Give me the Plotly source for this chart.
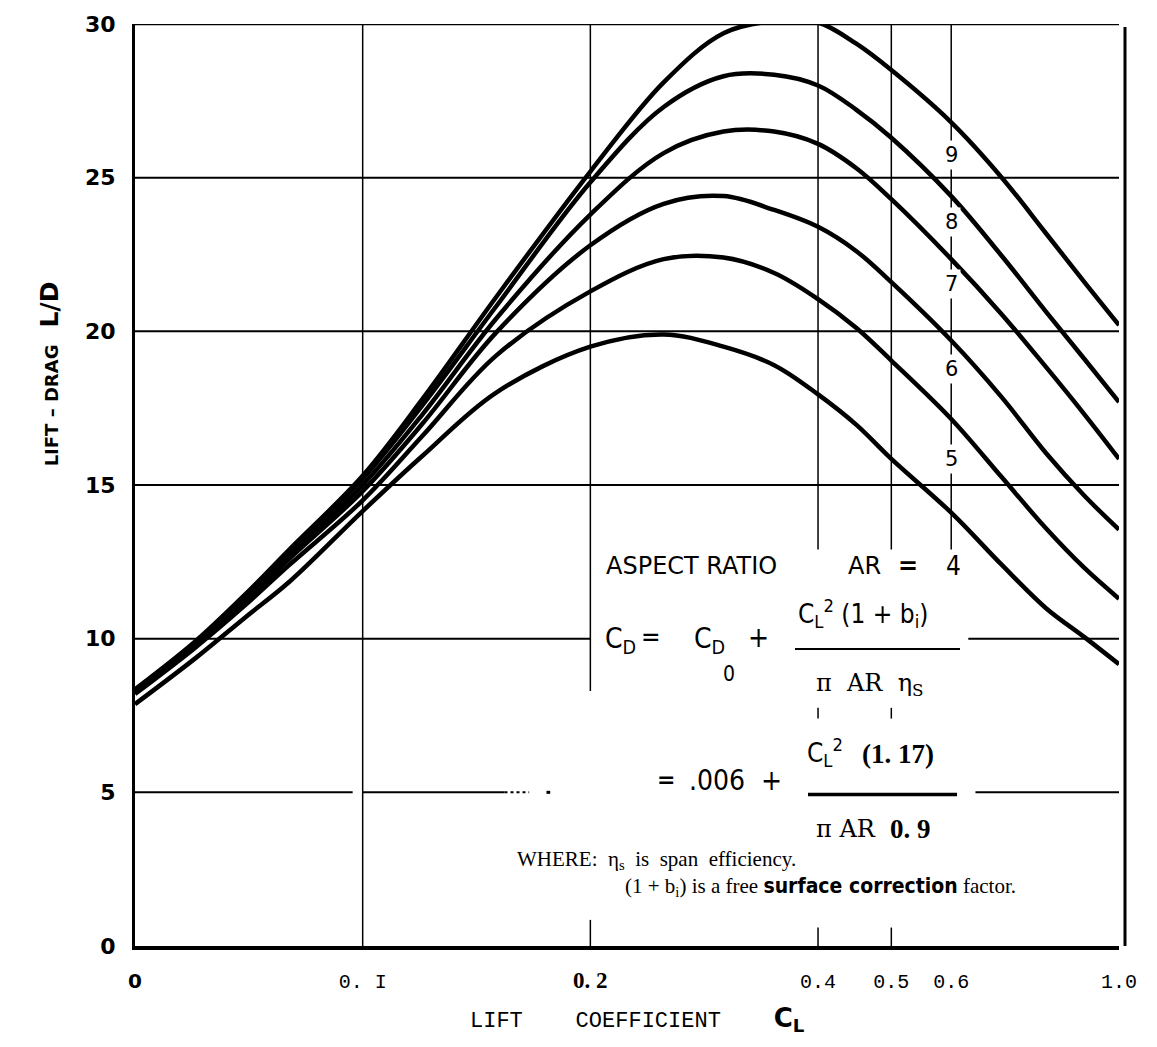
import math
import plotly.graph_objects as go

# ---------------- data ----------------
cl = [0.05, 0.06, 0.07, 0.08, 0.10, 0.12, 0.15, 0.20, 0.25, 0.30, 0.35,
      0.40, 0.45, 0.50, 0.60, 0.70, 0.80, 0.90, 1.00]
ld_ar4 = [7.87, 9.35, 10.70, 11.85, 14.15, 15.95, 18.00, 19.50, 19.90, 19.50, 18.90,
          17.95, 16.95, 15.85, 14.10, 12.40, 11.00, 10.05, 9.17]
ld_ar5 = [8.20, 9.70, 11.10, 12.40, 14.50, 16.60, 19.20, 21.30, 22.35, 22.40, 21.90,
          21.05, 20.10, 19.05, 17.15, 15.25, 13.60, 12.30, 11.30]
ld_ar6 = [8.25, 9.75, 11.20, 12.60, 14.80, 17.00, 19.95, 22.80, 24.15, 24.40, 23.95,
          23.40, 22.60, 21.60, 19.70, 17.85, 16.05, 14.65, 13.55]
ld_ar7 = [8.30, 9.80, 11.30, 12.70, 15.00, 17.30, 20.40, 23.80, 25.80, 26.50, 26.50,
          26.10, 25.30, 24.30, 22.35, 20.55, 18.85, 17.30, 15.85]
ld_ar8 = [8.33, 9.85, 11.40, 12.80, 15.20, 17.60, 20.80, 24.85, 27.30, 28.30, 28.35,
          28.00, 27.20, 26.30, 24.40, 22.45, 20.65, 19.10, 17.70]
ld_ar9 = [8.35, 9.90, 11.45, 12.90, 15.30, 17.80, 21.10, 25.20, 28.10, 29.70, 30.10,
          30.05, 29.35, 28.50, 26.80, 25.00, 23.20, 21.60, 20.20]
series = [("4", ld_ar4), ("5", ld_ar5), ("6", ld_ar6), ("7", ld_ar7), ("8", ld_ar8), ("9", ld_ar9)]

x_tickvals = [0.05, 0.1, 0.2, 0.4, 0.5, 0.6, 1.0]
x_ticktext = ['<span style="font-family:DejaVu Sans"><b>0</b></span>', "0. I",
              '<span style="font-family:Liberation Serif;font-size:23px"><b>0. 2</b></span>',
              "0.4", "0.5", "0.6", "1.0"]
y_tickvals = [0, 5, 10, 15, 20, 25, 30]
y_ticktext = ["0", "5", "10", "15", "20", "25", "30"]
curve_labels = ["9", "8", "7", "6", "5"]
curve_label_y = [25.75, 23.55, 21.53, 18.78, 15.86]

# ---------------- layout geometry ----------------
W, H = 1157, 1047
ML, MR, MT, MB = 135, 38, 21, 101
PW, PH = W - ML - MR, H - MT - MB
YR = [0.0, 30.0]
XR = [math.log10(0.05), 0.0]


def pxx(px):
    return (px - ML) / PW


def pyy(py):
    return (MT + PH - py) / PH


fig = go.Figure()
for name, vals in series:
    fig.add_trace(go.Scatter(x=cl, y=vals, mode="lines", name="AR " + name,
                             line=dict(color="black", width=4.5, shape="spline", smoothing=1.0),
                             hoverinfo="skip"))

shapes = []
G = dict(color="black", width=2)
# horizontal grid segments (value, from, to)
hseg = [(25, 0.05, 1.0), (20, 0.05, 1.0), (15, 0.05, 1.0),
        (10, 0.05, 0.2), (10, 0.632, 1.0),
        (5, 0.05, 0.097), (5, 0.1, 0.154), (5, 0.646, 1.0)]
for yv, xa, xb in hseg:
    shapes.append(dict(type="line", xref="x", yref="y", x0=xa, x1=xb, y0=yv, y1=yv,
                       line=G, layer="below"))
shapes.append(dict(type="line", xref="x", yref="y", x0=0.154, x1=0.166, y0=5, y1=5,
                   line=dict(color="black", width=2, dash="dot"), layer="below"))
shapes.append(dict(type="line", xref="x", yref="y", x0=0.175, x1=0.177, y0=5, y1=5,
                   line=dict(color="black", width=3), layer="below"))
# vertical grid segments (value, from, to)
vseg = [(0.1, 0, 30), (0.2, 8.3, 30), (0.2, 0, 0.85),
        (0.4, 12.9, 30), (0.4, 0, 0.6), (0.4, 7.4, 7.75),
        (0.5, 12.9, 30), (0.5, 0, 0.6), (0.5, 7.4, 7.75),
        (0.6, 12.9, 30)]
for xv, ya, yb in vseg:
    shapes.append(dict(type="line", xref="x", yref="y", x0=xv, x1=xv, y0=ya, y1=yb,
                       line=dict(color="black", width=1.5), layer="below"))
# fraction bars
shapes.append(dict(type="line", xref="paper", yref="paper", x0=pxx(795), x1=pxx(960),
                   y0=pyy(648), y1=pyy(648), line=dict(color="black", width=2)))
shapes.append(dict(type="line", xref="paper", yref="paper", x0=pxx(808), x1=pxx(957),
                   y0=pyy(794), y1=pyy(794), line=dict(color="black", width=3.5)))
# right border slightly outside the 1.0 line
shapes.append(dict(type="line", xref="paper", yref="paper", x0=pxx(1125), x1=pxx(1125),
                   y0=0, y1=pyy(24), line=dict(color="black", width=3)))

anns = []
FORM = "Liberation Sans Narrow, DejaVu Sans Condensed, Liberation Sans"
SERIF = "Liberation Serif, DejaVu Serif"
SANS = "DejaVu Sans"


def ann(text, px, py, size=26, family=FORM, xa="center", ya="middle", bg=None):
    d = dict(text=text, x=pxx(px), y=pyy(py), xref="paper", yref="paper",
             showarrow=False, xanchor=xa, yanchor=ya,
             font=dict(size=size, family=family, color="black"))
    if bg:
        d["bgcolor"] = bg
    anns.append(d)


# curve labels (white background breaks the 0.6 line like the reference)
for lab, yv in zip(curve_labels, curve_label_y):
    anns.append(dict(text=lab, x=math.log10(0.6), y=yv, xref="x", yref="y", showarrow=False,
                     font=dict(size=21, family=SANS, color="black"), bgcolor="white",
                     borderpad=2))

# formula block
ann("ASPECT RATIO", 604, 565, size=24, family=SANS, xa="left")
ann("AR", 864, 565, size=24, family=SANS)
ann("<b>=</b>", 908, 565, size=24, family=SANS)
ann("4", 953, 565, size=26)
ann("C<sub>D</sub>", 603, 640, size=28, xa="left")
ann("=", 651, 636, size=26)
ann("C<sub>D</sub>", 692, 640, size=28, xa="left")
ann("0", 729, 673, size=21)
ann("+", 758, 636, size=28)
ann("C<sub>L</sub><sup>2</sup> (1 + b<sub>i</sub>)", 796, 612, size=26, xa="left")
ann("\u03c0  AR  \u03b7<sub>S</sub>", 814, 684, size=24, xa="left", family="DejaVu Serif")
ann("<b>=</b>", 666, 779, size=22, family=SANS)
ann(".006  +", 687, 780, size=28, xa="left")
ann("C<sub>L</sub><sup>2</sup>", 805, 752, size=26, xa="left")
ann("<b>(1. 17)</b>", 898, 753, size=27, family=SERIF)
ann("\u03c0 AR", 814, 829, size=24, xa="left", family="DejaVu Serif")
ann("<b>0. 9</b>", 910, 829, size=27, family=SERIF)
ann("WHERE:  \u03b7<sub>s</sub>  is  span  efficiency.", 515, 860, size=21, family=SERIF, xa="left")
ann("(1 + b<sub>i</sub>) is a free <b><span style='font-family:DejaVu Sans Condensed, Liberation Sans Narrow'>surface correction</span></b> factor.",
    623, 887, size=21, family=SERIF, xa="left")

# axis titles
ann("LIFT    COEFFICIENT    <span style='font-family:DejaVu Sans;font-size:26px'><b>C<sub>L</sub></b></span>",
    637, 1020, size=22, family="Liberation Mono")
anns.append(dict(text="<b>LIFT \u2013 DRAG</b>   <b><span style='font-size:25px'>L/D</span></b>",
                 x=pxx(33), y=pyy(372), xref="paper", yref="paper", showarrow=False,
                 textangle=-90, font=dict(size=18, family=SANS, color="black")))

fig.update_layout(
    width=W, height=H, margin=dict(l=ML, r=MR, t=MT, b=MB),
    paper_bgcolor="white", plot_bgcolor="white", showlegend=False,
    shapes=shapes, annotations=anns,
    xaxis=dict(type="log", range=XR, showgrid=False, zeroline=False,
               tickmode="array", tickvals=x_tickvals, ticktext=x_ticktext,
               ticks="outside", ticklen=14, tickcolor="rgba(0,0,0,0)",
               tickfont=dict(size=20, family="Liberation Mono", color="black"),
               showline=True, linecolor="black", linewidth=4, mirror=False),
    yaxis=dict(range=YR, showgrid=False, zeroline=False,
               tickmode="array", tickvals=y_tickvals,
               ticktext=["<b>%s</b>" % t for t in y_ticktext],
               ticks="outside", ticklen=12, tickcolor="rgba(0,0,0,0)",
               tickfont=dict(size=22, family=SANS, color="black"),
               showline=True, linecolor="black", linewidth=3, mirror=False),
)
# top border line
fig.add_shape(type="line", xref="paper", yref="y", x0=0, x1=1, y0=30, y1=30,
              line=dict(color="black", width=2.5))
fig.write_html("out.html")
